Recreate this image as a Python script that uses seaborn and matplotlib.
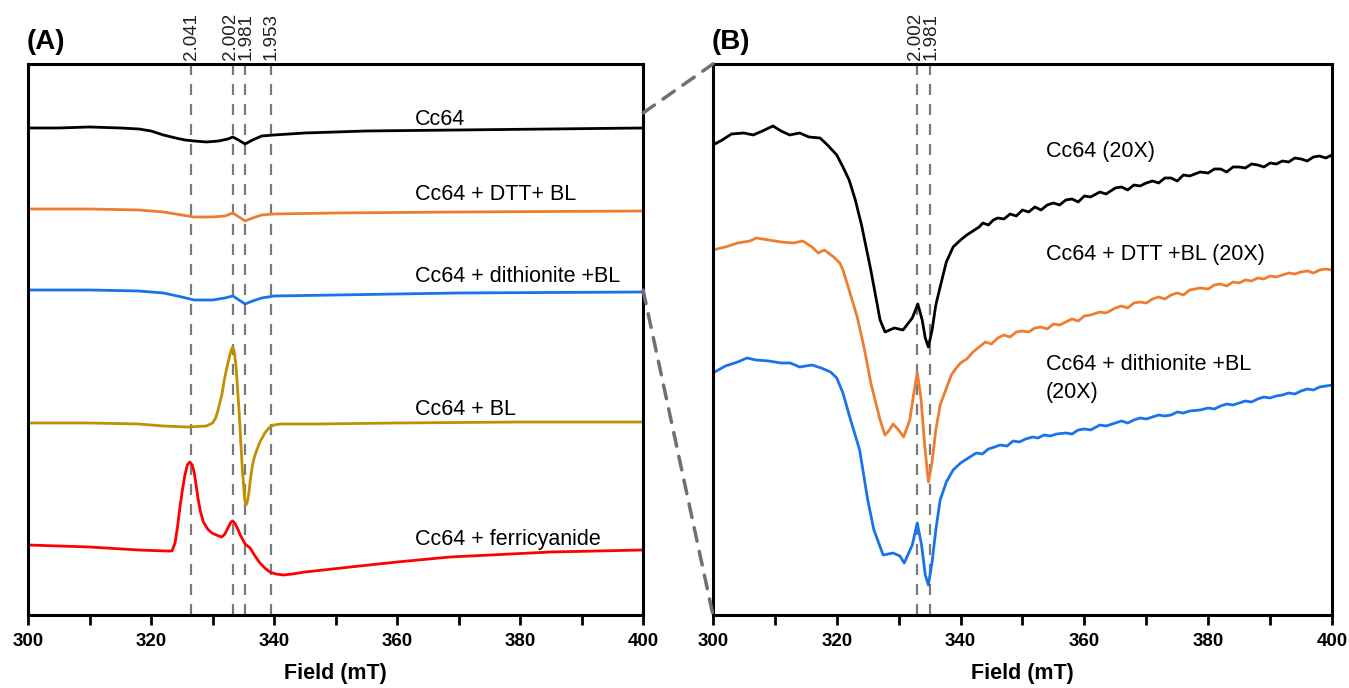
import matplotlib
matplotlib.use("Agg")
import matplotlib.pyplot as plt
import seaborn as sns
from matplotlib.patches import ConnectionPatch
from matplotlib.ticker import MultipleLocator

sns.set_style("white")
plt.rcParams["font.family"] = ["Liberation Sans", "DejaVu Sans"]
plt.rcParams["text.color"] = "black"
plt.rcParams["axes.labelcolor"] = "black"
plt.rcParams["xtick.color"] = "black"

# ---------------------------------------------------------------
# DATA (intensity in arbitrary units)
# ---------------------------------------------------------------
# Panel A
a_x_cc64 = [300, 305, 310, 315, 318, 320, 322, 324, 325.5, 327, 329, 331, 332.5, 333.3, 334.2,
            335.3, 336.5, 338, 340, 345, 355, 370, 385, 400]
a_cc64 = [487, 487, 488, 487, 486, 484, 480, 477, 475, 474, 473, 474, 476, 478, 475,
          471, 475, 479, 480, 482, 484, 485, 486, 487]

a_x_red = [300, 310, 318, 322, 325, 327, 330, 332, 333.3, 334.3, 335.3, 336.5, 338, 340,
           350, 370, 400]
a_dtt_bl = [406, 406, 405, 403, 400, 398, 398, 399, 402, 398, 394, 397, 400, 401,
            402, 403, 404]
a_dithionite_bl = [325, 325, 324, 322, 318, 315, 315, 317, 319, 315, 311, 314, 317, 319,
                   320, 322, 323]

a_x_bl = [300, 310, 318, 322, 326, 329, 330, 330.5, 330.9, 331.5, 332, 332.5, 332.9, 333.1,
          333.3, 333.5, 333.8, 334.3, 334.8, 335.2, 335.4, 335.6, 335.9, 336.2, 336.5, 336.8,
          337.2, 337.7, 338.5, 339.3, 340, 341, 347, 360, 380, 400]
a_bl = [192, 192, 191, 189, 188, 189, 192, 197, 205, 220, 238, 252, 262, 266,
        268, 264, 250, 205, 150, 117, 110, 112, 122, 138, 150, 158,
        165, 173, 182, 188, 190, 191, 191, 192, 193, 193]

a_x_ferri = [300, 310, 318, 322.5, 323.4, 323.9, 324.3, 324.7, 325.1, 325.5, 325.9, 326.3,
             326.7, 327.0, 327.3, 327.6, 328.0, 328.5, 329.2, 329.9, 331.0, 331.5, 332.0,
             332.5, 333.0, 333.3, 333.7, 334.1, 334.5, 335.3, 336.1, 336.9, 337.7, 338.5,
             339.3, 340.3, 341.5, 343, 345, 348, 352.4, 360, 368.6, 385, 400]
a_ferri = [70, 68, 65, 64, 64, 72, 88, 108, 125, 140, 150, 153,
           150, 143, 131, 118, 104, 93, 86, 82, 79, 78, 81,
           87, 93, 94, 91, 86, 80, 71, 67, 59, 52, 47,
           43, 41, 40, 41, 43, 45, 48, 53, 58, 63, 65]

# Panel B (20X)
b_x_cc64 = [300, 301.5, 303, 305, 306.5, 308, 309.7, 311, 312.4, 314, 315.5, 317.3, 318.5,
            320, 321, 322, 323, 324, 325.5, 327, 327.8, 329.3, 330.7, 332.2, 333.1, 333.8,
            334.3, 334.8, 335.4, 336.0, 336.7, 337.7, 338.8, 340, 341, 342, 343, 343.6,
            344.5, 345.3, 346, 347, 348, 349, 350, 351, 352, 353, 354, 355, 356, 357, 358,
            359, 360, 361, 362.5, 363.5, 365, 366, 367, 368, 369, 370, 371, 372, 373, 374,
            375, 376, 377, 378.7, 380, 381, 382, 383, 384, 385, 386, 387, 388, 389, 390,
            391, 392, 393, 394, 395, 396, 397, 398, 399, 400]
b_cc64 = [470, 475, 481, 482, 480, 484, 489, 484, 480, 482, 478, 477, 470,
          460, 448, 435, 415, 390, 345, 295, 283, 287, 285, 297, 311, 295,
          277, 268, 285, 310, 328, 353, 368, 375, 380, 384, 388, 392,
          390, 395, 397, 396, 401, 399, 405, 403, 408, 405, 410, 412, 410, 415, 416,
          413, 419, 418, 423, 421, 427, 428, 425, 430, 429, 432, 434, 432, 437, 437,
          434, 440, 439, 443, 442, 446, 446, 443, 448, 448, 447, 451, 450, 448, 452,
          451, 454, 453, 457, 456, 454, 458, 459, 457, 460]

b_x_dtt = [300, 302, 304, 306, 307, 309, 311, 313, 314.5, 316, 317, 318, 319.5, 320.5, 321,
           322, 323.3, 324.5, 325.5, 327, 327.8, 328.5, 329.1, 330, 330.8, 331.8, 332.4,
           333.0, 333.6, 334.2, 334.8, 335.4, 336.0, 336.7, 338.5, 339.3, 340, 341, 342,
           343, 344, 345, 346, 347, 348, 349, 350, 351, 352, 353, 354, 355, 356, 357, 358,
           359, 360, 361, 362.5, 363.5, 365, 366, 367, 368, 369, 370, 371, 372, 373, 374,
           375, 376, 377, 378.7, 380, 381, 382, 383, 384, 385, 386, 387, 388, 389, 390,
           391, 392, 393, 394, 395, 396, 397, 398, 399, 400]
b_dtt_bl = [365, 368, 372, 374, 377, 375, 373, 372, 374, 368, 362, 365, 358, 352, 345,
            325, 298, 265, 232, 195, 180, 185, 191, 185, 178, 195, 220,
            242, 217, 170, 133, 153, 185, 210, 240, 247, 252, 256, 263,
            268, 273, 271, 277, 280, 278, 283, 284, 283, 287, 288, 286, 291, 290, 293, 296,
            294, 299, 300, 303, 302, 307, 309, 307, 312, 313, 312, 316, 318, 316, 320,
            322, 320, 325, 327, 326, 330, 331, 329, 333, 332, 335, 334, 337, 336, 339,
            338, 340, 342, 341, 343, 344, 342, 345, 346, 345]

b_x_dith = [300, 302, 304, 305.5, 307, 309, 311, 312.5, 314, 316, 317.5, 319, 320, 321, 322,
            323.7, 325, 326, 327.5, 329.1, 330.2, 330.9, 332.2, 333.0, 333.7, 334.3, 334.8,
            335.4, 336.0, 336.7, 337.7, 338.8, 340, 341, 342, 342.6, 343.5, 344.5, 345.5,
            346.4, 347.5, 348.5, 349.5, 350.5, 351.7, 352.5, 353.5, 354.5, 355.5, 357, 358,
            359, 360, 361, 362.5, 363.5, 365, 366, 367, 368, 369, 370, 371, 372, 373, 374,
            375, 376, 377, 378.7, 380, 381, 382, 383, 384, 385, 386, 387, 388, 389, 390,
            391, 392, 393, 394, 395, 396, 397, 398, 399, 400]
b_dithionite_bl = [242, 249, 253, 257, 255, 254, 252, 252, 248, 250, 247, 243, 237, 222, 200,
                   165, 115, 85, 60, 62, 59, 52, 70, 92, 70, 40, 30,
                   53, 85, 115, 133, 145, 152, 156, 160, 162, 161, 166, 168,
                   170, 169, 174, 173, 176, 178, 177, 180, 179, 181, 182, 181,
                   185, 186, 185, 190, 189, 192, 194, 192, 195, 197, 196, 198, 200, 199, 200,
                   203, 202, 204, 205, 207, 206, 209, 211, 210, 212, 214, 213, 216, 218, 217,
                   219, 220, 222, 221, 224, 226, 225, 228, 229, 230]

g_lines_a = [326.5, 333.3, 335.3, 339.5]
g_labels_a = ["2.041", "2.002", "1.981", "1.953"]
g_shift_a = [0, -2, 1, 0]
g_lines_b = [333.0, 335.0]
g_labels_b = ["2.002", "1.981"]
g_shift_b = [-1, 1]

BLACK, ORANGE, BLUE, GOLD, RED = "#000000", "#ED7D31", "#1A73E8", "#BF9000", "#FF0000"

# ---------------------------------------------------------------
# FIGURE
# ---------------------------------------------------------------
fig = plt.figure(figsize=(13.49, 6.88), dpi=100)
axA = fig.add_axes([0.0208, 0.1061, 0.4559, 0.8009])
axB = fig.add_axes([0.5285, 0.1061, 0.4589, 0.8009])

sns.lineplot(x=a_x_cc64, y=a_cc64, ax=axA, color=BLACK, linewidth=2)
sns.lineplot(x=a_x_red, y=a_dtt_bl, ax=axA, color=ORANGE, linewidth=2)
sns.lineplot(x=a_x_red, y=a_dithionite_bl, ax=axA, color=BLUE, linewidth=2)
sns.lineplot(x=a_x_bl, y=a_bl, ax=axA, color=GOLD, linewidth=2)
sns.lineplot(x=a_x_ferri, y=a_ferri, ax=axA, color=RED, linewidth=2)

sns.lineplot(x=b_x_cc64, y=b_cc64, ax=axB, color=BLACK, linewidth=2)
sns.lineplot(x=b_x_dtt, y=b_dtt_bl, ax=axB, color=ORANGE, linewidth=2)
sns.lineplot(x=b_x_dith, y=b_dithionite_bl, ax=axB, color=BLUE, linewidth=2)

for ax, lines, labels, shifts in [(axA, g_lines_a, g_labels_a, g_shift_a),
                                  (axB, g_lines_b, g_labels_b, g_shift_b)]:
    for xv, lab, sh in zip(lines, labels, shifts):
        ax.axvline(xv, color="#7a7a7a", linestyle=(0, (5, 4)), linewidth=1.6, zorder=0)
        ax.annotate(lab, xy=(xv, 1.0), xycoords=("data", "axes fraction"),
                    xytext=(sh, 3), textcoords="offset points", rotation=90,
                    ha="center", va="bottom", fontsize=13.5, color="#202020")
    ax.set_xlim(300, 400)
    ax.set_ylim(0, 551)
    ax.set_yticks([])
    ax.set_ylabel("")
    ax.xaxis.set_major_locator(MultipleLocator(20))
    ax.xaxis.set_minor_locator(MultipleLocator(10))
    ax.tick_params(axis="x", which="both", direction="out", length=7, width=2,
                   bottom=True, labelsize=13.5, pad=6)
    for lab in ax.get_xticklabels():
        lab.set_fontweight("bold")
    for sp in ax.spines.values():
        sp.set_linewidth(2.2)
        sp.set_color("black")
    ax.set_xlabel("Field (mT)", fontsize=15.5, fontweight="bold", labelpad=9)

# curve labels
fs = 15.5
axA.text(362.9, 490, "Cc64", fontsize=fs, va="baseline")
axA.text(362.9, 415, "Cc64 + DTT+ BL", fontsize=fs, va="baseline")
axA.text(362.9, 333, "Cc64 + dithionite +BL", fontsize=fs, va="baseline")
axA.text(362.9, 200, "Cc64 + BL", fontsize=fs, va="baseline")
axA.text(362.9, 70, "Cc64 + ferricyanide", fontsize=fs, va="baseline")

axB.text(353.8, 458, "Cc64 (20X)", fontsize=fs, va="baseline")
axB.text(353.8, 355, "Cc64 + DTT +BL (20X)", fontsize=fs, va="baseline")
axB.text(353.8, 245, "Cc64 + dithionite +BL", fontsize=fs, va="baseline")
axB.text(353.8, 217, "(20X)", fontsize=fs, va="baseline")

fig.text(27 / 1349, 1 - 42 / 688, "(A)", fontsize=20, fontweight="bold", va="center")
fig.text(712 / 1349, 1 - 42 / 688, "(B)", fontsize=20, fontweight="bold", va="center")

# zoom connectors
for ya, yb in [(502, 1.0), (325, 0.0)]:
    con = ConnectionPatch(xyA=(400, ya), coordsA=axA.transData,
                          xyB=(0, yb), coordsB=axB.transAxes,
                          color="#707070", linestyle=(0, (4, 3)), linewidth=2.5)
    fig.add_artist(con)

fig.savefig("out.png", dpi=100)
